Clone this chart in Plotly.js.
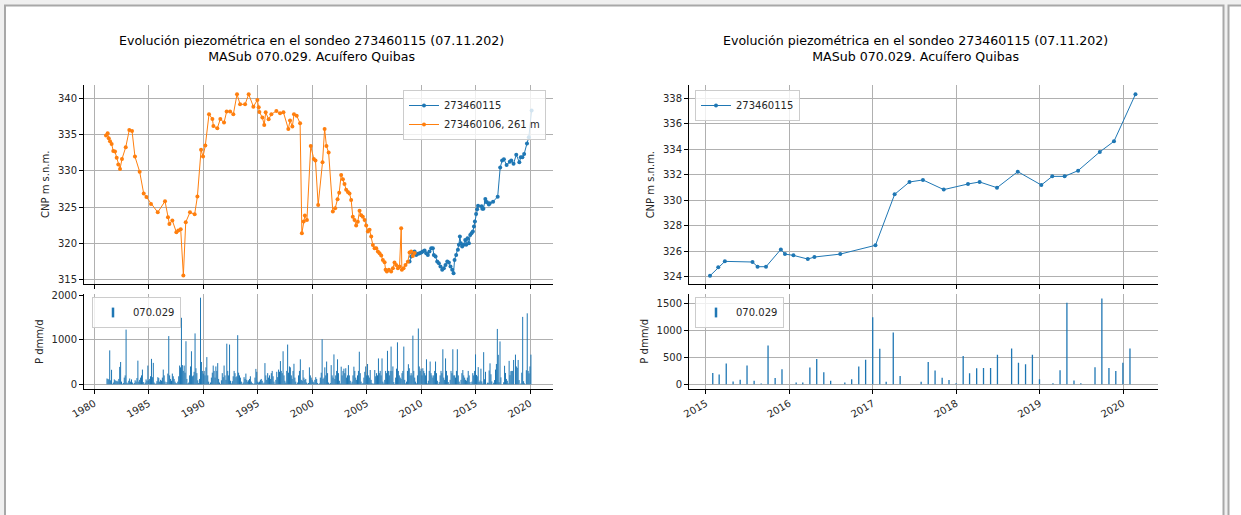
<!DOCTYPE html>
<html>
<head>
<meta charset="utf-8">
<script src="https://cdn.plot.ly/plotly-3.0.1.min.js"></script>
<style>
html,body{margin:0;padding:0;background:#f0f0f0;}
#chart{width:1241px;height:515px;}
</style>
</head>
<body>
<div id="chart"></div>
<script>
// ---------------- DATA ----------------
const chartTitle = "Evolución piezométrica en el sondeo 273460115 (07.11.202)<br>MASub 070.029. Acuífero Quibas";
const nameWell115 = "273460115";
const nameWell106 = "273460106, 261 m";
const namePrecip = "070.029";
const yTitleLevel = "CNP m s.n.m.";
const yTitlePrecip = "P dmm/d";

// Piezometric level, well 273460106 (orange)
const dates106 = ["1981-01-26","1981-03-22","1981-04-28","1981-06-10","1981-08-03","1981-09-27","1981-11-24",
"1982-01-19","1982-03-14","1982-05-11","1982-07-16","1982-11-18","1983-03-18","1983-06-18","1983-09-24",
"1984-02-28","1984-07-13","1984-10-12","1985-03-14","1985-10-27","1986-06-28","1986-10-05","1986-11-22",
"1987-02-28","1987-07-13","1987-09-17","1987-12-06","1988-03-04","1988-05-23","1988-10-12","1989-03-18",
"1989-06-18","1989-10-19","1989-12-24","1990-03-10","1990-07-13","1990-11-03","1990-12-06","1991-04-16",
"1991-07-27","1991-11-28","1992-02-24","1992-06-18","1992-10-05","1993-02-06","1993-05-19","1993-11-03",
"1994-03-04","1994-08-08","1994-12-20","1995-02-03","1995-02-25","1995-06-06","1995-08-08","1995-09-24",
"1996-01-02","1996-04-02","1996-09-17","1997-01-20","1997-05-12","1997-10-23","1997-12-20","1998-03-07",
"1998-05-01","1998-07-31","1998-11-22","1999-01-20","1999-03-22","1999-05-01","1999-07-09","1999-11-14",
"2000-02-24","2000-04-20","2000-07-20","2000-12-13","2001-02-21","2001-04-23","2001-07-06","2001-11-24",
"2002-02-10","2002-05-01","2002-06-25","2002-08-30","2002-10-27","2002-12-20","2003-02-13","2003-04-13",
"2003-06-06","2003-07-31","2003-09-24","2003-11-21","2004-01-15","2004-03-10","2004-05-08","2004-07-02",
"2004-08-26","2004-10-24","2004-12-17","2005-02-10","2005-04-09","2005-06-03","2005-07-28","2005-09-24",
"2005-11-18","2006-01-12","2006-03-10","2006-05-05","2006-06-28","2006-08-26","2006-09-28","2006-11-10",
"2007-01-15","2007-04-02","2007-05-30","2007-07-24","2007-09-17","2007-11-14","2008-01-08","2008-03-04",
"2008-03-26","2008-05-23","2008-07-27","2008-10-12","2008-12-09","2009-02-03","2009-03-29","2009-05-27"];
const level106 = [334.86,335.18,334.5,334.1,333.7,332.75,332.66,
331.83,330.9,330.28,331.65,333.26,335.64,335.5,331.97,
329.9,326.9,326.4,325.46,324.3,325.83,323.62,322.7,
323.17,321.56,321.8,321.97,315.6,322.94,324.3,324.04,
326.47,332.9,331.97,333.49,337.8,337.16,336.2,335.87,
337.16,336.65,338.17,338.17,337.8,340.55,339.17,339.17,
340.55,338.85,339.77,338.76,338.12,337.34,336.33,338.07,
337.1,337.8,338.26,337.94,338.07,335.78,336.93,336.1,
337.8,337.6,336.56,321.42,323.03,323.85,323.26,333.44,
331.65,331.42,325.32,331.19,335.78,333.44,332.52,324.4,
324.86,326.1,327.0,329.45,328.85,328.2,327.4,327.1,
326.9,326.0,323.7,323.26,322.5,323.0,324.5,323.9,
323.7,323.26,322.5,321.65,321.9,320.96,319.8,319.36,
319.36,318.9,318.67,318.35,317.75,317.43,316.4,316.15,
316.4,316.15,316.6,317.4,317.06,316.6,316.83,322.1,
316.4,316.6,317.06,317.5,318.76,318.9,318.3,318.7];

// Piezometric level, well 273460115 (blue)
const dates115 = ["2008-12-09","2009-02-03","2009-03-29","2009-05-27","2009-07-20","2009-09-13","2009-11-10",
"2010-01-05","2010-02-28","2010-04-28","2010-06-21","2010-08-15","2010-10-09","2010-12-06","2011-01-30",
"2011-03-04","2011-05-01","2011-06-25","2011-08-19","2011-10-12","2011-12-09","2012-02-03","2012-03-29",
"2012-05-27","2012-07-20","2012-09-13","2012-11-10","2012-12-24","2013-01-26","2013-03-22","2013-05-19",
"2013-06-21","2013-07-24","2013-08-26","2013-10-09","2013-11-24","2014-01-19","2014-02-21","2014-04-06",
"2014-05-23","2014-07-06","2014-08-19","2014-10-02","2014-11-08","2014-12-10",
"2015-01-19","2015-02-24","2015-03-25","2015-07-24","2015-08-15","2015-09-21","2015-11-25","2015-12-13",
"2016-01-19","2016-03-22","2016-04-20","2016-08-11","2017-01-12","2017-04-06","2017-06-10","2017-08-08",
"2017-11-07","2018-02-21","2018-04-13","2018-06-28","2018-09-27","2019-01-08","2019-02-25","2019-04-20",
"2019-06-18","2019-09-21","2019-11-22","2020-02-24"];
const level115 = [317.52,318.21,318.67,318.9,318.44,318.58,318.67,
318.76,318.9,319.04,318.67,318.44,318.9,319.36,319.36,
318.44,318.21,317.52,317.29,316.83,316.38,316.6,317.06,
317.52,317.39,316.83,316.38,315.92,317.75,318.44,319.13,
319.82,320.96,320.05,319.59,319.82,320.5,319.82,320.73,
320.05,321.19,321.42,321.65,322.34,323.03,
324.07,324.73,325.2,325.15,324.78,324.78,326.14,325.77,
325.67,325.38,325.54,325.77,326.46,330.46,331.43,331.59,
330.83,331.27,331.43,330.98,332.24,331.19,331.87,331.87,
332.32,333.79,334.62,338.31];

// Monthly precipitation (dmm/d), station 070.029, Jan..Dec of each year
const precipFirstYear = 1981;
const precip1981_1990 = [
0,130,120,110,760,90,325,10,40,110,90,70,
80,60,120,390,500,60,10,30,150,200,1225,40,
20,80,130,60,110,40,5,30,90,60,140,530,
60,100,150,200,330,50,10,40,110,80,420,90,
120,180,570,160,480,40,5,20,70,160,140,60,
100,80,150,330,200,60,10,50,240,1080,200,120,
80,240,180,120,60,30,20,60,180,420,380,1490,
430,300,420,260,965,120,20,40,200,400,740,180,
200,280,1140,360,250,90,30,120,1940,500,300,240,
300,200,380,610,200,60,10,40,150,260,420,300];
const precip1991_2000 = [
150,400,300,475,120,40,10,90,250,160,420,200,
100,910,300,200,890,80,20,70,180,300,250,160,
180,1100,260,200,150,60,10,40,160,120,240,100,
60,90,120,180,60,30,5,20,150,345,280,60,
40,60,100,120,80,20,40,475,200,100,250,150,
200,120,250,300,180,60,10,100,280,160,330,280,
520,300,250,740,200,80,40,300,890,260,400,380,
200,120,300,460,150,60,10,40,200,300,560,100,
80,320,150,100,120,40,10,30,380,200,150,100,
60,40,100,160,120,30,5,20,150,260,1010,120];
const precip2001_2010 = [
150,380,200,510,250,40,10,30,430,200,150,670,
120,200,300,560,250,80,20,395,200,300,350,250,
360,150,200,430,200,80,20,60,200,395,300,150,
100,200,300,730,250,60,10,30,150,280,400,200,
455,200,150,320,100,30,5,20,320,180,250,200,
580,250,300,200,580,60,20,100,300,250,750,300,
200,300,845,300,400,50,10,150,350,940,300,200,
150,120,250,300,845,100,20,60,300,450,360,200,
250,200,1090,300,150,60,20,200,1250,400,300,350,
200,360,300,250,200,560,20,80,300,510,250,200];
const precip2011_2020 = [
150,200,300,510,250,80,10,50,200,300,250,785,
150,100,580,300,200,50,10,100,300,250,785,200,
200,150,300,785,200,60,10,100,250,320,200,150,
100,80,150,300,200,50,10,60,250,200,300,670,
210,180,385,50,85,350,65,15,720,115,280,0,
35,35,310,470,225,65,0,35,95,330,455,1240,
660,45,960,155,0,0,45,415,255,120,80,20,
525,205,295,300,300,545,0,665,400,370,545,95,
0,20,260,1510,70,20,0,315,1590,300,245,400,
665];

// ---------------- BUILD ----------------
const precipVals = [].concat(precip1981_1990, precip1991_2000, precip2001_2010, precip2011_2020);
function pad(n){return (n<10?'0':'')+n;}
const precipDates = precipVals.map((v,i)=>{
  const y = precipFirstYear + Math.floor(i/12), m = i%12;
  const d = new Date(Date.UTC(y, m+1, 0));
  return d.getUTCFullYear()+'-'+pad(d.getUTCMonth()+1)+'-'+pad(d.getUTCDate());
});
function stems(dates, vals, from){
  const x=[], y=[];
  dates.forEach((d,i)=>{ if(from && d<from) return; if(!vals[i]) return; x.push(d,d,null); y.push(0,vals[i],null); });
  return {x,y};
}
function filt(dates, vals, from){
  const x=[], y=[];
  dates.forEach((d,i)=>{ if(d>=from){x.push(d); y.push(vals[i]);} });
  return {x,y};
}

const W=1241, H=515;
const px = v => v/W;
const py = v => 1 - v/H;
const BLUE='#1f77b4', ORANGE='#ff7f0e';
const FONT='DejaVu Sans, sans-serif';
const tickFont={family:FONT, size:10, color:'#262626'};
const GRID='#b0b0b0';

const stAll = stems(precipDates, precipVals, null);
const stRight = stems(precipDates, precipVals, '2015-01-01');
const b115R = filt(dates115, level115, '2015-01-01');

const traces = [
  {x:dates115, y:level115, xaxis:'x', yaxis:'y', type:'scatter', mode:'lines+markers', name:nameWell115,
   line:{color:BLUE, width:1}, marker:{color:BLUE, size:4}, legend:'legend'},
  {x:dates106, y:level106, xaxis:'x', yaxis:'y', type:'scatter', mode:'lines+markers', name:nameWell106,
   line:{color:ORANGE, width:1}, marker:{color:ORANGE, size:4}, legend:'legend'},
  {x:stAll.x, y:stAll.y, xaxis:'x2', yaxis:'y2', type:'scatter', mode:'lines', showlegend:false,
   line:{color:BLUE, width:1}, hoverinfo:'skip'},
  {x:[null], y:[null], xaxis:'x2', yaxis:'y2', type:'scatter', mode:'markers', name:namePrecip,
   marker:{color:BLUE, symbol:'line-ns-open', size:7, line:{color:BLUE, width:2.5}}, legend:'legend2'},
  {x:b115R.x, y:b115R.y, xaxis:'x3', yaxis:'y3', type:'scatter', mode:'lines+markers', name:nameWell115,
   line:{color:BLUE, width:1}, marker:{color:BLUE, size:4}, legend:'legend3'},
  {x:stRight.x, y:stRight.y, xaxis:'x4', yaxis:'y4', type:'scatter', mode:'lines', showlegend:false,
   line:{color:BLUE, width:1.3}, hoverinfo:'skip'},
  {x:[null], y:[null], xaxis:'x4', yaxis:'y4', type:'scatter', mode:'markers', name:namePrecip,
   marker:{color:BLUE, symbol:'line-ns-open', size:7, line:{color:BLUE, width:2.5}}, legend:'legend4'}
];

function xAxis(dom, range, tick0, dtick, anchor, labels){
  return {domain:dom, range:range, type:'date', anchor:anchor, tick0:tick0, dtick:dtick, tickformat:'%Y',
    showticklabels:labels, tickangle:-30, tickfont:tickFont, ticks:'outside', ticklen:4, tickwidth:1, tickcolor:'#000',
    showgrid:true, gridcolor:GRID, gridwidth:1, zeroline:false, showline:true, linecolor:'#000', linewidth:1,
    mirror:false, fixedrange:true, automargin:false};
}
function yAxis(dom, range, tickvals, anchor, title){
  return {domain:dom, range:range, anchor:anchor, tickvals:tickvals, tickfont:tickFont, ticks:'outside', ticklen:4,
    tickwidth:1, tickcolor:'#000', showgrid:true, gridcolor:GRID, gridwidth:1, zeroline:false, showline:true,
    linecolor:'#000', linewidth:1, mirror:false, fixedrange:true, automargin:false,
    title:{text:title, font:{family:FONT, size:10, color:'#262626'}, standoff:6}};
}
function legendBox(x, xa, y){
  return {x:x, xanchor:xa, y:y, yanchor:'top', xref:'paper', yref:'paper', bgcolor:'rgba(255,255,255,0.8)',
    bordercolor:'#cccccc', borderwidth:1, font:{family:FONT, size:10, color:'#262626'}, itemwidth:30,
    tracegroupgap:0, itemclick:false, itemdoubleclick:false};
}

const leftX=[px(84), px(553.3)], rightX=[px(689), px(1158.3)];
const layout = {
  width:W, height:H, margin:{l:0, r:0, t:0, b:0}, paper_bgcolor:'#f0f0f0', plot_bgcolor:'#ffffff',
  font:{family:FONT, size:10, color:'#262626'},
  xaxis: xAxis(leftX, ['1979-01-19','2022-02-20'], '1980-01-01', 'M60', 'y', false),
  yaxis: yAxis([py(283.5), py(85)], [314.5, 341.83], [315,320,325,330,335,340], 'x', yTitleLevel),
  xaxis2: xAxis(leftX, ['1979-01-19','2022-02-20'], '1980-01-01', 'M60', 'y2', true),
  yaxis2: yAxis([py(389), py(294.3)], [-105, 2016], [0,1000,2000], 'x2', yTitlePrecip),
  xaxis3: xAxis(rightX, ['2014-10-19','2020-06-03'], '2015-01-01', 'M12', 'y3', false),
  yaxis3: yAxis([py(284.3), py(85)], [323.40, 339.04], [324,326,328,330,332,334,336,338], 'x3', yTitleLevel),
  xaxis4: xAxis(rightX, ['2014-10-19','2020-06-03'], '2015-01-01', 'M12', 'y4', true),
  yaxis4: yAxis([py(389), py(293.5)], [-87, 1681], [0,500,1000,1500], 'x4', yTitlePrecip),
  legend: legendBox(px(546), 'right', py(90)),
  legend2: legendBox(px(92), 'left', py(297)),
  legend3: legendBox(px(695), 'left', py(90)),
  legend4: legendBox(px(695), 'left', py(297)),
  annotations:[
    {text:chartTitle, xref:'paper', yref:'paper', x:px(311.5), y:py(49), xanchor:'center', yanchor:'middle',
     showarrow:false, font:{family:FONT, size:12.6, color:'#000'}},
    {text:chartTitle, xref:'paper', yref:'paper', x:px(916), y:py(49), xanchor:'center', yanchor:'middle',
     showarrow:false, font:{family:FONT, size:12.6, color:'#000'}}
  ],
  shapes:[
    {type:'rect', xref:'paper', yref:'paper', x0:px(5), x1:px(1223.5), y0:py(530), y1:py(5.5),
     fillcolor:'#ffffff', line:{color:'#a8a8a8', width:2}, layer:'below'},
    {type:'rect', xref:'paper', yref:'paper', x0:px(1228.5), x1:px(1270), y0:py(530), y1:py(5.5),
     fillcolor:'#ffffff', line:{color:'#a8a8a8', width:2}, layer:'below'}
  ],
  showlegend:true
};

Plotly.newPlot('chart', traces, layout, {displayModeBar:false, staticPlot:true});
</script>
</body>
</html>
